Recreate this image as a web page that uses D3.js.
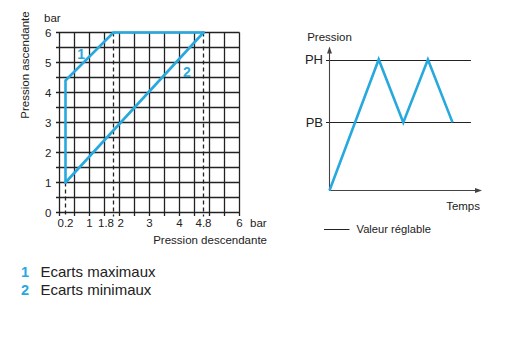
<!DOCTYPE html>
<html>
<head>
<meta charset="utf-8">
<script src="https://cdn.jsdelivr.net/npm/d3@7"></script>
<style>
  html, body { margin: 0; padding: 0; background: #fff; }
  svg { display: block; font-family: "Liberation Sans", Arial, sans-serif; }
</style>
</head>
<body>
<svg id="chart" width="515" height="357"></svg>
<script>
// ---------- Data (left chart) ----------
const gridValues = [0, 0.5, 1, 1.5, 2, 2.5, 3, 3.5, 4, 4.5, 5, 5.5, 6];
const xTickValues = [0.2, 1, 1.8, 2, 3, 4, 4.8, 6];
const xTickLabels = ["0.2", "1", "1.8", "2", "3", "4", "4.8", "6"];
const yTickValues = [0, 1, 2, 3, 4, 5, 6];
const series1 = [[0.2, 1], [0.2, 4.4], [1.8, 6], [4.8, 6]];   // Ecarts maximaux
const series2 = [[0.2, 1], [4.8, 6]];                          // Ecarts minimaux
const dashedX = [0.2, 1.8, 4.8];
const dashedTop = [1, 6, 6];
const seriesNames = ["1", "2"];
const seriesLabels = ["Ecarts maximaux", "Ecarts minimaux"];
const seriesLabelPos = [[0.72, 5.3], [4.25, 4.7]];

// ---------- Data (right chart) ----------
const timeVals = [0, 2, 3, 4, 5];
const pressureVals = [0, 1, 0.52, 1, 0.52];
const levelNames = ["PH", "PB"];
const levelVals = [1, 0.52];

const svg = d3.select("#chart");
const blue = "#27a8df";
const ink = "#222";

// ================= LEFT CHART =================
const x = d3.scaleLinear().domain([0, 6]).range([59.5, 239.5]);
const y = d3.scaleLinear().domain([0, 6]).range([212.5, 32.5]);

const L = svg.append("g");

// grid verticals (extend slightly below as ticks)
L.append("g").selectAll("line").data(gridValues).join("line")
  .attr("x1", d => x(d)).attr("x2", d => x(d))
  .attr("y1", y(6)).attr("y2", y(0) + 3.5)
  .attr("stroke", ink).attr("stroke-width", 1.3);
// grid horizontals (extend slightly left as ticks)
L.append("g").selectAll("line").data(gridValues).join("line")
  .attr("y1", d => y(d)).attr("y2", d => y(d))
  .attr("x1", x(0) - 3.5).attr("x2", x(6))
  .attr("stroke", ink).attr("stroke-width", 1.3);

// dashed drop lines
L.append("g").selectAll("line").data(dashedX).join("line")
  .attr("x1", d => x(d)).attr("x2", d => x(d))
  .attr("y1", (d, i) => y(dashedTop[i])).attr("y2", y(0) + 4)
  .attr("stroke", ink).attr("stroke-width", 1.3)
  .attr("stroke-dasharray", "4,3");

// series lines
const line = d3.line().x(d => x(d[0])).y(d => y(d[1]));
L.append("path").datum(series1).attr("d", line)
  .attr("fill", "none").attr("stroke", blue).attr("stroke-width", 2.6)
  .attr("stroke-linejoin", "round").attr("stroke-linecap", "round");
L.append("path").datum(series2).attr("d", line)
  .attr("fill", "none").attr("stroke", blue).attr("stroke-width", 2.6)
  .attr("stroke-linecap", "round");

// series number labels
L.append("g").selectAll("text").data(seriesLabelPos).join("text")
  .attr("x", d => x(d[0])).attr("y", d => y(d[1]))
  .attr("text-anchor", "middle").attr("dominant-baseline", "central")
  .attr("font-size", 14).attr("font-weight", "bold").attr("fill", blue)
  .text((d, i) => seriesNames[i]);

// y tick labels
L.append("g").selectAll("text").data(yTickValues).join("text")
  .attr("x", x(0) - 8).attr("y", d => y(d) + 4)
  .attr("text-anchor", "end").attr("font-size", 11.5).attr("fill", ink)
  .text(d => d);
L.append("text").attr("x", 44).attr("y", 22).attr("font-size", 11.5)
  .attr("fill", ink).text("bar");

// x tick labels
L.append("g").selectAll("text").data(xTickValues).join("text")
  .attr("x", d => d === 1.8 ? x(d) + 0.5 : d === 2 ? x(d) - 2 : x(d))
  .attr("y", 227)
  .attr("text-anchor", d => d === 1.8 ? "end" : d === 2 ? "start" : "middle")
  .attr("font-size", 11.5).attr("fill", ink)
  .text((d, i) => xTickLabels[i]);
L.append("text").attr("x", 250).attr("y", 227).attr("font-size", 11.5)
  .attr("fill", ink).text("bar");

// axis titles
L.append("text").attr("x", 267).attr("y", 244).attr("text-anchor", "end")
  .attr("font-size", 11.5).attr("fill", ink).text("Pression descendante");
L.append("text").attr("transform", "translate(29,65) rotate(-90)")
  .attr("text-anchor", "middle").attr("font-size", 11.5).attr("fill", ink)
  .text("Pression ascendante");

// ================= RIGHT CHART =================
const t = d3.scaleLinear().domain([0, 5]).range([329.5, 452.5]);
const p = d3.scaleLinear().domain([0, 1]).range([190.5, 59.5]);
const R = svg.append("g");
const axisCol = "#444";

// level lines
R.append("g").selectAll("line").data(levelVals).join("line")
  .attr("x1", t(0) - 3.5).attr("x2", t(5.75))
  .attr("y1", d => Math.round(p(d)) + 0.5).attr("y2", d => Math.round(p(d)) + 0.5)
  .attr("stroke", ink).attr("stroke-width", 1.1);
R.append("g").selectAll("text").data(levelVals).join("text")
  .attr("x", 323).attr("y", d => p(d) + 4.7)
  .attr("text-anchor", "end").attr("font-size", 13).attr("fill", ink)
  .text((d, i) => levelNames[i]);

// axes
R.append("line").attr("x1", t(0)).attr("x2", t(0))
  .attr("y1", p(0)).attr("y2", p(1.07))
  .attr("stroke", axisCol).attr("stroke-width", 1.1);
R.append("line").attr("x1", t(0)).attr("x2", t(6.0))
  .attr("y1", p(0)).attr("y2", p(0))
  .attr("stroke", axisCol).attr("stroke-width", 1.1);
// arrow heads
const ay = p(1.1), ax = t(6.2);
R.append("path")
  .attr("d", `M${t(0)},${ay} L${t(0) - 2.5},${ay + 7} L${t(0) + 2.5},${ay + 7} Z`)
  .attr("fill", axisCol);
R.append("path")
  .attr("d", `M${ax},${p(0)} L${ax - 7},${p(0) - 2.5} L${ax - 7},${p(0) + 2.5} Z`)
  .attr("fill", axisCol);

// zigzag
const zz = d3.line().x((d, i) => t(timeVals[i])).y(d => p(d));
R.append("path").datum(pressureVals).attr("d", zz)
  .attr("fill", "none").attr("stroke", blue).attr("stroke-width", 2.6)
  .attr("stroke-linejoin", "miter");

// labels
R.append("text").attr("x", t(0)).attr("y", 41).attr("text-anchor", "middle")
  .attr("font-size", 11.5).attr("fill", ink).text("Pression");
R.append("text").attr("x", 480).attr("y", 210).attr("text-anchor", "end")
  .attr("font-size", 11.5).attr("fill", ink).text("Temps");
R.append("line").attr("x1", 324).attr("x2", 349.5).attr("y1", 229.5).attr("y2", 229.5)
  .attr("stroke", ink).attr("stroke-width", 1);
R.append("text").attr("x", 356.5).attr("y", 233).attr("font-size", 11.2)
  .attr("fill", ink).text("Valeur réglable");

// ================= BOTTOM LEGEND =================
const Lg = svg.append("g");
const legendY = [277, 294.5];
Lg.selectAll("text.num").data(seriesNames).join("text").attr("class", "num")
  .attr("x", 25).attr("y", (d, i) => legendY[i])
  .attr("text-anchor", "middle").attr("font-size", 14.5).attr("font-weight", "bold")
  .attr("fill", blue).text(d => d);
Lg.selectAll("text.lab").data(seriesLabels).join("text").attr("class", "lab")
  .attr("x", 40.5).attr("y", (d, i) => legendY[i])
  .attr("font-size", 15).attr("fill", "#222").text(d => d);
</script>
</body>
</html>
